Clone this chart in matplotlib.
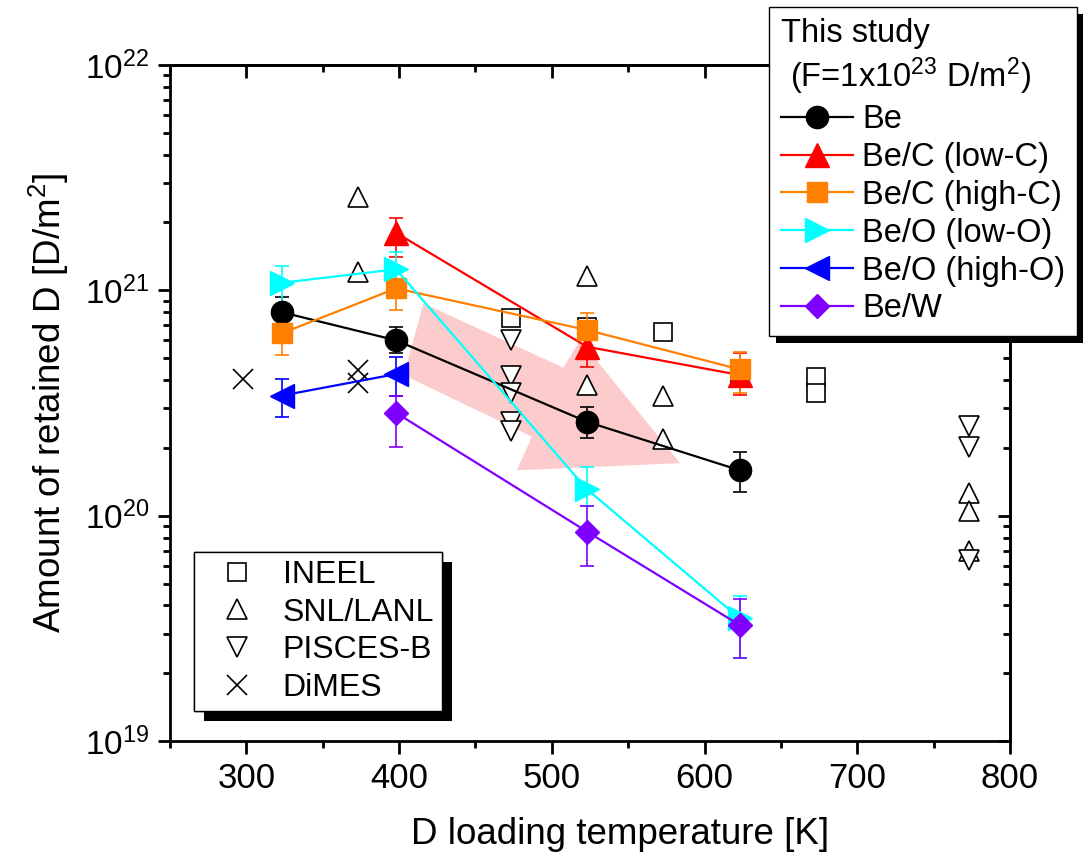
import numpy as np
import matplotlib
matplotlib.use("Agg")
import matplotlib.pyplot as plt
from matplotlib.patches import Polygon, Rectangle
from matplotlib.ticker import MultipleLocator, LogLocator, NullFormatter
from matplotlib.transforms import IdentityTransform

plt.rcParams['font.family'] = ['Liberation Sans', 'DejaVu Sans']
plt.rcParams['mathtext.default'] = 'regular'

# ---------------- this study (filled markers, with error bars) ----------------
T_BE = [323, 398, 523, 623]
D_BE = [8.0e20, 6.0e20, 2.61e20, 1.59e20]
LO_BE = [6.95e20, 5.25e20, 2.22e20, 1.28e20]
HI_BE = [9.3e20, 6.9e20, 3.03e20, 1.91e20]

T_LOWC = [398, 523, 623]
D_LOWC = [1.80e21, 5.62e20, 4.21e20]
LO_LOWC = [1.41e21, 4.55e20, 3.43e20]
HI_LOWC = [2.09e21, 6.9e20, 5.25e20]

T_HIGHC = [323, 398, 523, 623]
D_HIGHC = [6.44e20, 1.02e21, 6.67e20, 4.46e20]
LO_HIGHC = [5.16e20, 8.18e20, 5.6e20, 3.50e20]
HI_HIGHC = [7.77e20, 1.27e21, 7.96e20, 5.33e20]

T_LOWO = [323, 398, 523, 623]
D_LOWO = [1.08e21, 1.24e21, 1.31e20, 3.5e19]
LO_LOWO = [8.7e20, 1.0e21, 1.10e20, 2.33e19]
HI_LOWO = [1.28e21, 1.48e21, 1.64e20, 4.4e19]

T_HIGHO = [323, 398]
D_HIGHO = [3.41e20, 4.25e20]
LO_HIGHO = [2.73e20, 3.40e20]
HI_HIGHO = [4.06e20, 5.07e20]

T_BEW = [398, 523, 623]
D_BEW = [2.86e20, 8.5e19, 3.27e19]
LO_BEW = [2.02e20, 5.97e19, 2.33e19]
HI_BEW = [3.40e20, 1.10e20, 4.25e19]

# ---------------- literature data (open markers) ----------------
T_INEEL = [473, 523, 573, 623, 673, 673]
D_INEEL = [7.5e20, 6.9e20, 6.5e20, 4.17e20, 4.11e20, 3.49e20]

T_SNL = [373, 373, 523, 523, 573, 573, 773, 773, 773]
D_SNL = [2.59e21, 1.20e21, 1.16e21, 3.80e20, 3.41e20, 2.19e20, 1.26e20, 1.05e20, 6.98e19]

T_PISCES = [473, 473, 473, 473, 473, 773, 773, 773]
D_PISCES = [6.05e20, 4.17e20, 3.52e20, 2.60e20, 2.38e20, 2.50e20, 2.01e20, 6.36e19]

T_DIMES = [298, 373, 373]
D_DIMES = [4.03e20, 4.43e20, 3.89e20]

# pink trend arrow outline (T, D)
ARROW_T = [416, 507.5, 518.5, 584, 477, 487, 403]
ARROW_D = [8.75e20, 4.54e20, 6.02e20, 1.71e20, 1.59e20, 2.24e20, 4.21e20]

series = [
    ('Be', T_BE, D_BE, LO_BE, HI_BE, 'black', 'o', 16),
    ('Be/C (low-C)', T_LOWC, D_LOWC, LO_LOWC, HI_LOWC, '#ff0000', '^', 17),
    ('Be/C (high-C)', T_HIGHC, D_HIGHC, LO_HIGHC, HI_HIGHC, '#ff8000', 's', 14),
    ('Be/O (low-O)', T_LOWO, D_LOWO, LO_LOWO, HI_LOWO, '#00ffff', '>', 17),
    ('Be/O (high-O)', T_HIGHO, D_HIGHO, LO_HIGHO, HI_HIGHO, '#0000ff', '<', 17),
    ('Be/W', T_BEW, D_BEW, LO_BEW, HI_BEW, '#8000ff', 'D', 12.5),
]

fig = plt.figure(figsize=(10.83, 8.55), dpi=100)
ax = fig.add_axes([0.157, 0.1333, 0.7756, 0.7907])

ax.add_patch(Polygon(np.column_stack([ARROW_T, ARROW_D]), closed=True,
                     facecolor='#fccccc', edgecolor='none', zorder=1))

handles = []
for label, t, d, lo, hi, c, m, ms in series:
    d = np.array(d)
    yerr = [d - np.array(lo), np.array(hi) - d]
    ax.errorbar(t, d, yerr=yerr, fmt='none', ecolor=c, elinewidth=1.2,
                capsize=4.7, capthick=1.2, zorder=3)
    ln, = ax.plot(t, d, color=c, marker=m, markersize=ms, linewidth=1.6,
                  markeredgecolor=c, label=label, zorder=4)
    handles.append(ln)

open_kw = dict(linestyle='none', markerfacecolor='white', markeredgecolor='black',
               markeredgewidth=1.2, zorder=2.5)
h1, = ax.plot(T_INEEL, D_INEEL, marker='s', markersize=13, label='INEEL', **open_kw)
h2, = ax.plot(T_SNL, D_SNL, marker='^', markersize=15, label='SNL/LANL', **open_kw)
h3, = ax.plot(T_PISCES, D_PISCES, marker='v', markersize=15, label='PISCES-B', **open_kw)
h4, = ax.plot(T_DIMES, D_DIMES, marker='x', markersize=14, label='DiMES',
              linestyle='none', color='black', markeredgewidth=1.2, zorder=2.5)

ax.set_yscale('log')
ax.set_xlim(250, 800)
ax.set_ylim(1e19, 1e22)
ax.xaxis.set_major_locator(MultipleLocator(100))
ax.xaxis.set_minor_locator(MultipleLocator(50))
ax.yaxis.set_major_locator(LogLocator(base=10, numticks=10))
ax.yaxis.set_minor_locator(LogLocator(base=10, subs=np.arange(2, 10), numticks=20))
ax.yaxis.set_minor_formatter(NullFormatter())

for sp in ax.spines.values():
    sp.set_linewidth(2)
ax.tick_params(which='major', direction='out', length=9, width=2, pad=6)
ax.tick_params(which='minor', direction='out', length=5, width=2)
ax.tick_params(axis='x', labelsize=25)
ax.tick_params(axis='y', labelsize=24)

secx = ax.secondary_xaxis('top')
secx.xaxis.set_major_locator(MultipleLocator(100))
secx.xaxis.set_minor_locator(MultipleLocator(50))
secx.tick_params(which='major', direction='in', length=9, width=2, labeltop=False)
secx.tick_params(which='minor', direction='in', length=5, width=2)
secx.spines['top'].set_linewidth(2)

secy = ax.secondary_yaxis('right')
secy.yaxis.set_major_locator(LogLocator(base=10, numticks=10))
secy.yaxis.set_minor_locator(LogLocator(base=10, subs=np.arange(2, 10), numticks=20))
secy.yaxis.set_minor_formatter(NullFormatter())
secy.tick_params(which='major', direction='in', length=9, width=2, labelright=False)
secy.tick_params(which='minor', direction='in', length=5, width=2)
secy.spines['right'].set_linewidth(2)

ax.set_xlabel('D loading temperature [K]', fontsize=26.5)
ax.xaxis.set_label_coords(0.536, -0.112)
ax.set_ylabel('Amount of retained D [D/m$^2$]', fontsize=26.5, labelpad=10)

leg1 = ax.legend(handles=handles, loc='upper right',
                 title='This study\n (F=1x10$^{23}$ D/m$^2$)',
                 bbox_to_anchor=(1077 / 1083, 1 - 7 / 855), bbox_transform=fig.transFigure,
                 borderaxespad=0, fontsize=23.5, title_fontsize=23.5, alignment='left',
                 fancybox=False, edgecolor='black', framealpha=1, handlelength=2.2,
                 labelspacing=0.21, handletextpad=0.3, borderpad=0.35)
leg1.get_frame().set_linewidth(1)
ax.add_artist(leg1)

leg2 = ax.legend(handles=[h1, h2, h3, h4], loc='upper left',
                 bbox_to_anchor=(194 / 1083, 1 - 552 / 855), bbox_transform=fig.transFigure,
                 borderaxespad=0, fontsize=23, fancybox=False, edgecolor='black',
                 framealpha=1, handlelength=2.2, labelspacing=0.24, handletextpad=0.33,
                 borderpad=0.25)
leg2.get_frame().set_linewidth(1)
ax.add_artist(leg2)

# black drop shadows behind both legends
fig.canvas.draw()
for leg, off in [(leg1, 7), (leg2, 10)]:
    bb = leg.get_frame().get_window_extent()
    ax.add_patch(Rectangle((bb.x0 + off, bb.y0 - off), bb.width, bb.height,
                           transform=IdentityTransform(), facecolor='black',
                           edgecolor='none', zorder=4.9, clip_on=False))

fig.savefig('out.png', dpi=100)
